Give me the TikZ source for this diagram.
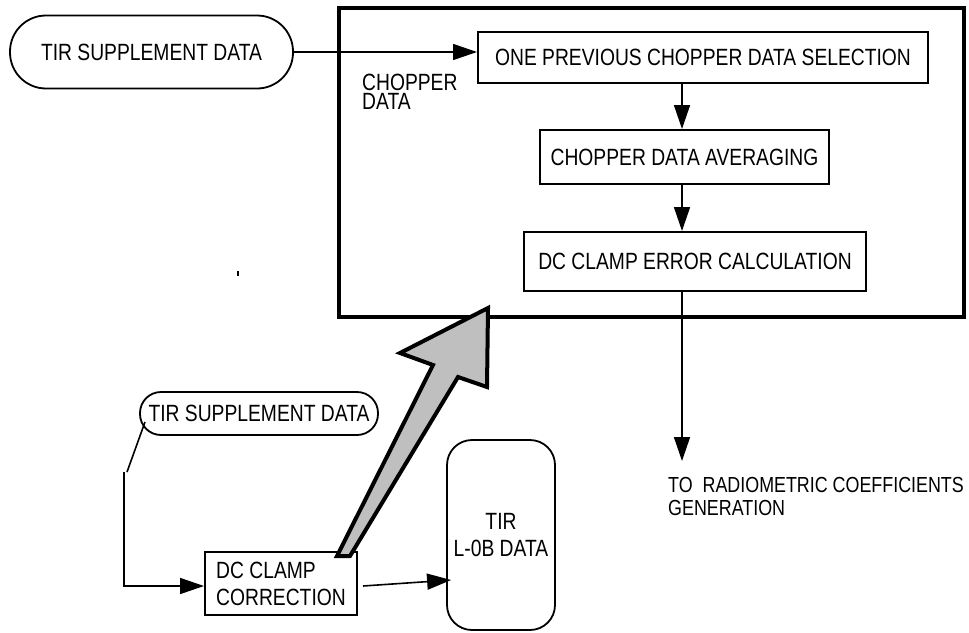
\documentclass[tikz,border=0pt]{standalone}
\usepackage{fontspec}
\setmainfont{Liberation Sans}[FakeStretch=0.82]
\usetikzlibrary{arrows.meta}
\begin{document}
\begin{tikzpicture}[x=1pt,y=-1pt,
  font=\fontsize{23.5}{27}\selectfont,
  lw/.style={line width=1.6pt},
  arr/.style={lw,-{Triangle[length=24pt,width=16pt]}},
  procbox/.style={draw,line width=2pt,inner sep=0pt},
  pill/.style={draw,line width=1.8pt,inner sep=0pt},
]
\useasboundingbox (0,0) rectangle (969,632);

% frame
\node[draw,line width=4pt,minimum width=625pt,minimum height=309pt,inner sep=0pt] (frame) at (651.5,162.5) {};

% top pill and boxes
\node[pill,rounded corners=36pt,minimum width=283pt,minimum height=73pt] (pill1) at (151.5,52) {TIR SUPPLEMENT DATA};
\node[procbox,fill=white,minimum width=450pt,minimum height=51pt] (b1) at (703,57.5) {ONE PREVIOUS CHOPPER DATA SELECTION};
\node[procbox,minimum width=289pt,minimum height=54pt] (b2) at (684.5,157) {CHOPPER DATA AVERAGING};
\node[procbox,minimum width=342pt,minimum height=59pt] (b3) at (695,261.5) {DC CLAMP ERROR CALCULATION};

\node[inner sep=0pt,anchor=north west,align=left,font=\fontsize{23.5}{19}\selectfont] (chop) at (362,74) {CHOPPER\\DATA};

\coordinate (spine) at (682,0);
\coordinate (outend) at (682,461);

\draw[arr] (pill1.east) -- (pill1.east -| b1.west);
\draw[arr] (b1.south -| spine) -- (b2.north -| spine);
\draw[arr] (b2.south -| spine) -- (b3.north -| spine);
\draw[arr] (b3.south -| spine) -- (outend);

\node[inner sep=0pt,anchor=north west,align=left,font=\fontsize{21.8}{23}\selectfont] (to) at (668,477) {TO\ \ RADIOMETRIC COEFFICIENTS\\GENERATION};

% small tick
\fill (237,271) rectangle (239,276);

% bottom part
\node[pill,rounded corners=21pt,minimum width=238pt,minimum height=43pt] (pill2) at (259,413.5) {TIR SUPPLEMENT DATA};
\node[procbox,minimum width=152pt,minimum height=63pt,align=left] (dcc) at (281,583.5) {DC CLAMP\\CORRECTION};
\node[draw,line width=1.8pt,rounded corners=25pt,minimum width=108pt,minimum height=190pt,inner sep=0pt,align=center] (l0b) at (501,535) {TIR\\L-0B DATA};

\coordinate (p2a) at (145,422);
\coordinate (p2b) at (127,472);
\coordinate (p2c) at (124,472);
\coordinate (p2d) at (124,586);
\draw[lw] (p2a) -- (p2b);
\draw[arr] (p2c) -- (p2d) -- (dcc.west |- p2d);
\draw[arr] ([xshift=5pt,yshift=-2.5pt]dcc.east) -- ([xshift=5pt,yshift=-45pt]l0b.west);

% big gray arrow
\draw[line width=4pt,fill=black!25,line join=miter]
  (337,556) -- (350,556) -- (458,377) -- (487,387) -- (488,308) -- (400,353) -- (433,365) -- cycle;
\end{tikzpicture}
\end{document}
